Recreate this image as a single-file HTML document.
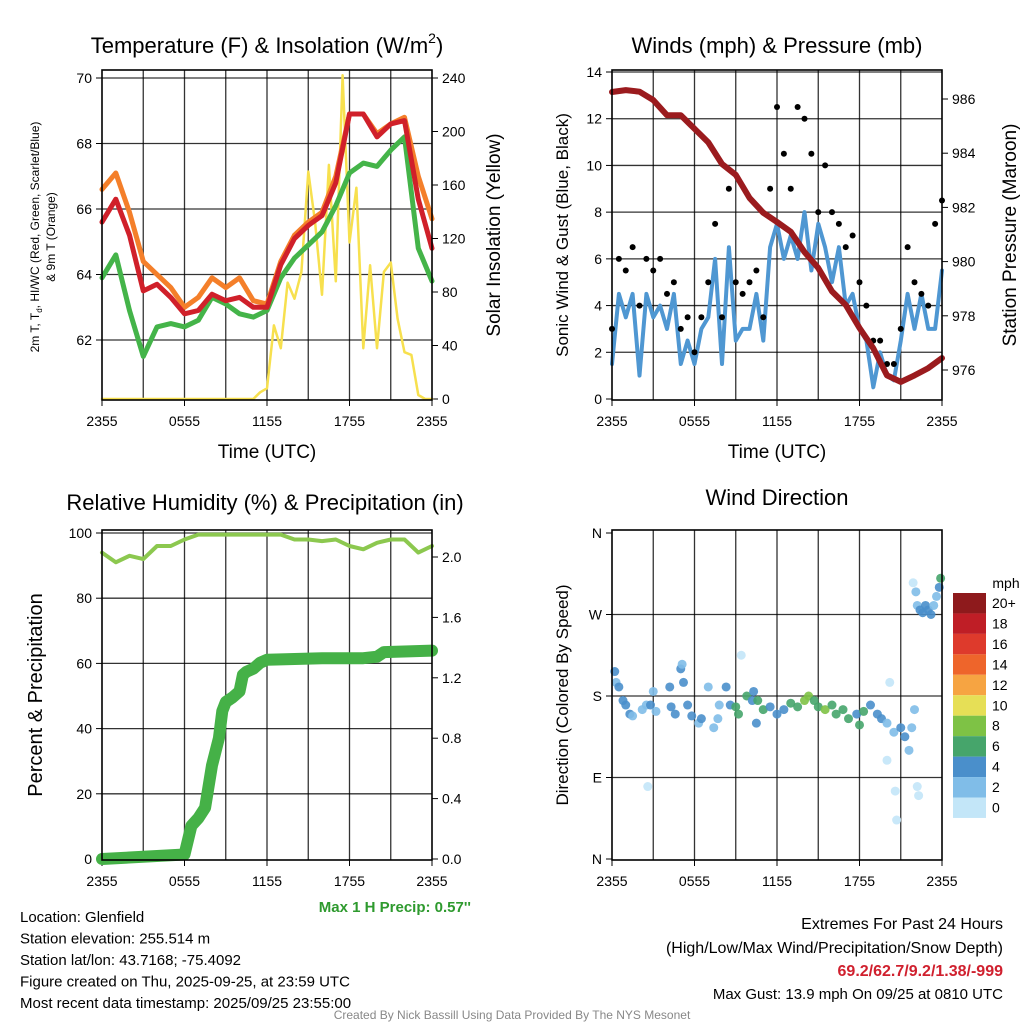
<!DOCTYPE html>
<html><head><meta charset="utf-8"><style>
body{margin:0;background:#fff;}
svg{display:block;font-family:"Liberation Sans",Arial,sans-serif;}
</style></head><body>
<svg id="svg" width="1024" height="1024" viewBox="0 0 1024 1024" xmlns="http://www.w3.org/2000/svg">
<g id="layer"></g>
</svg>
<script>
// ---- DATA ----
const hours = [0,1,2,3,4,5,6,7,8,9,10,11,12,13,14,15,16,17,18,19,20,21,22,23,24];
const tempRed = [65.6,66.3,65.2,63.5,63.7,63.3,62.8,62.9,63.4,63.2,63.3,63.0,63.0,64.3,65.1,65.5,65.8,66.8,68.9,68.9,68.2,68.6,68.7,66.3,64.8];
const tempOrange = [66.6,67.1,65.9,64.4,64.0,63.6,63.0,63.3,63.9,63.6,63.9,63.2,63.1,64.4,65.2,65.6,65.9,67.0,68.9,68.9,68.3,68.6,68.8,67.0,65.7];
const tempGreen = [63.9,64.6,62.9,61.5,62.4,62.5,62.4,62.6,63.3,63.1,62.8,62.7,62.9,63.9,64.5,64.9,65.3,66.1,67.1,67.4,67.3,67.8,68.2,64.8,63.8];
const halfHours = [0,0.5,1,1.5,2,2.5,3,3.5,4,4.5,5,5.5,6,6.5,7,7.5,8,8.5,9,9.5,10,10.5,11,11.5,12,12.5,13,13.5,14,14.5,15,15.5,16,16.5,17,17.5,18,18.5,19,19.5,20,20.5,21,21.5,22,22.5,23,23.5,24];
const solar = [0,0,0,0,0,0,0,0,0,0,0,0,0,0,0,0,0,0,0,0,0,0,0,5,8,55,38,87,75,95,170,132,78,175,88,242,117,158,38,100,38,95,102,60,35,33,3,0,0];
const pressure = [986.26,986.33,986.27,985.96,985.4,985.4,984.9,984.4,983.6,983.2,982.35,981.8,981.46,981.1,980.35,979.76,978.9,978.4,977.55,976.8,975.8,975.56,975.8,976.07,976.44];
const windSpeed = [1.5,4.5,3.5,4.5,1.0,4.5,3.5,4.0,3.0,4.5,1.5,2.5,1.5,3.0,3.5,6,1.5,6.5,2.5,3,3,4.5,2.5,6.5,7.5,6,7,6,8,5.5,7.5,6.5,5,6.5,4,4.5,3,2.5,0.5,2,1,0.8,2.5,4.5,3,4.5,3,3,5.5];
const windGust = [3,6,5.5,6.5,4,6,5.5,6,4.5,5,3,3.5,2,3.5,5,7.5,3.5,9.0,5,4.5,5,5.5,3.5,9,12.5,10.5,9,12.5,12,10.5,8,10,8,7.5,6.5,7,5,4,2.5,2.5,1.5,1.5,3,6.5,5,4.5,4,7.5,8.5];
const rh = [94,91,93,92,96,96,98,99.5,99.5,99.5,99.5,99.5,99.5,99.5,98,98,97.5,98,96,95,97,98,98,94,96];
const precipHours = [0,6,6.5,7,7.5,8,8.5,8.75,9,9.5,10,10.25,10.5,11,11.5,12,16,19,20,20.5,24];
const precip = [0,0.03,0.22,0.27,0.34,0.62,0.80,0.98,1.04,1.07,1.11,1.22,1.24,1.26,1.30,1.32,1.33,1.33,1.34,1.37,1.38];
const dirHours = [0.2,0.3,0.5,0.8,1,1.3,1.5,2.2,2.5,2.6,2.8,3,3.2,4.2,4.3,4.6,5,5.1,5.2,5.5,5.8,6.3,6.5,7,7.4,7.7,7.8,8.3,8.6,9,9.2,9.4,9.8,10.2,10.3,10.5,10.6,11,11.5,12,12.5,13,13.5,14,14.3,14.7,15,15.5,16,16.3,16.8,17.2,17.8,18,18.3,18.8,19.3,19.6,20,20.0,20.2,20.5,20.6,20.7,21,21.3,21.6,21.8,22,22.2,22.3,21.9,22.1,22.2,22.4,22.6,22.8,23,23.2,23.4,23.6,23.8,23.9];
const dirDeg = [207,195,190,175,170,160,158,165,170,80,170,185,163,190,168,160,210,215,195,170,158,150,155,190,145,155,170,190,170,168,160,225,180,175,185,150,175,165,168,160,165,172,168,175,180,175,168,165,170,160,165,155,160,148,163,170,160,155,150,109,195,140,75,43,145,135,120,145,165,80,70,305,295,280,275,272,280,275,270,280,290,300,310];
const dirSpeed = [4,2,4,4,4,4,2,2,2,0,4,2,2,4,4,4,4,2,4,4,4,2,4,2,2,2,2,4,4,6,6,0,6,4,4,4,6,6,4,4,4,6,6,8,8,6,6,8,6,6,6,6,4,6,6,4,4,4,2,0,0,2,0,0,4,4,2,2,2,0,0,0,2,2,4,4,4,4,4,2,2,4,6];
const speedLabels = ["20+","18","16","14","12","10","8","6","4","2","0"];
const speedColors = ["#8e1a1c","#bf1e26","#de3a2c","#ee652b","#f6a442","#e6df56","#7ec245","#46a56b","#4a8fcb","#80bde8","#c3e6f8"];
const xTickLabels = ["2355","0555","1155","1755","2355"];

// ---- HELPERS ----
const NS="http://www.w3.org/2000/svg";
const root=document.getElementById('layer');
function el(tag,attrs,parent){const e=document.createElementNS(NS,tag);for(const k in attrs)e.setAttribute(k,attrs[k]);(parent||root).appendChild(e);return e;}
function txt(s,x,y,size,anchor,parent,extra){const t=el('text',Object.assign({x:x,y:y,'font-size':size,'text-anchor':anchor||'middle',fill:'#000'},extra||{}),parent);t.textContent=s;return t;}
function span(parent,s,extra){const t=el('tspan',extra||{},parent);t.textContent=s;return t;}
const X0=102,X1=432,X2=612,X3=942;
function xs(left){return h=>left+h*(330/24);}
function linear(d0,d1,r0,r1){return v=>r0+(v-d0)*(r1-r0)/(d1-d0);}
function frame(left,top,g){
  for(let h=3;h<24;h+=3){const x=left+h*330/24;const l=el('line',{x1:x,y1:top,x2:x,y2:top+330,stroke:'#000','stroke-width':1.3,'stroke-opacity':0.8},g);
    
    }
  for(let i=0;i<5;i++){const x=left+i*82.5;el('line',{x1:x,y1:top+330,x2:x,y2:top+336,stroke:'#000','stroke-width':1},g);
    const t=txt(xTickLabels[i],x,top+356,14,'middle',g);
    
    }
}
function border(left,top,g){el('rect',{x:left,y:top,width:330,height:330,fill:'none',stroke:'#000','stroke-width':1.6},g);}
function hgrid(y,left,g){const l=el('line',{x1:left,y1:y,x2:left+330,y2:y,stroke:'#000','stroke-width':1.3,'stroke-opacity':0.8},g);
  
  }
function ytick(x,y,label,side,g){const dx=side==='l'?-6:6;el('line',{x1:x,y1:y,x2:x+dx,y2:y,stroke:'#000','stroke-width':1},g);
  const t=txt(label,x+(side==='l'?-10:10),y+5,14,side==='l'?'end':'start',g);
  
  }
function poly(xsArr,ysArr,stroke,w,g,name){const pts=xsArr.map((x,i)=>x.toFixed(1)+','+ysArr[i].toFixed(1)).join(' ');
  const p=el('polyline',{points:pts,fill:'none',stroke:stroke,'stroke-width':w,'stroke-linejoin':'round','stroke-linecap':'round'},g);
  
  return p;}

// ---- PANEL 1 ----
const g1=el('g',{});


const x1=xs(X0), yT=linear(62,70,340,78), yS=linear(0,240,399,78);
frame(X0,70,g1);
[62,64,66,68,70].forEach(v=>{hgrid(yT(v),X0,g1);ytick(X0,yT(v),String(v),'l',g1);});
[0,40,80,120,160,200,240].forEach(v=>ytick(X1,yS(v),String(v),'r',g1));
poly(halfHours.map(x1),solar.map(yS),'#f7e04e',2.5,g1,'solar-insolation-line');
poly(hours.map(x1),tempOrange.map(yT),'#f47f2a',5,g1,'9m-temperature-line');
poly(hours.map(x1),tempGreen.map(yT),'#44b449',5,g1,'dewpoint-line');
poly(hours.map(x1),tempRed.map(yT),'#d0202a',5,g1,'2m-temperature-line');
border(X0,70,g1);
let t;
t=el('text',{x:267,y:53,'font-size':22,'text-anchor':'middle'},g1);
span(t,'Temperature (F) & Insolation (W/m');span(t,'2',{'font-size':14,dy:-10});span(t,')',{dy:10});

t=txt('Time (UTC)',267,458,19,'middle',g1);
t=el('text',{x:0,y:0,'font-size':12,'text-anchor':'middle',transform:'translate(39,237) rotate(-90)'},g1);
span(t,'2m T, T');span(t,'d',{'font-size':8,dy:3});span(t,', HI/WC (Red, Green, Scarlet/Blue)',{dy:-3});

t=el('text',{x:0,y:0,'font-size':12,'text-anchor':'middle',transform:'translate(55,237) rotate(-90)'},g1);t.textContent='& 9m T (Orange)';
t=el('text',{x:0,y:0,'font-size':19,'text-anchor':'middle',transform:'translate(500,235) rotate(-90)'},g1);t.textContent='Solar Insolation (Yellow)';

// ---- PANEL 2 ----
const g2=el('g',{});


const x2=xs(X2), yW=linear(0,14,399,72), yP=linear(976,986,370,99);
frame(X2,70,g2);
[2,4,6,8,10,12,14].forEach(v=>hgrid(yW(v),X2,g2));
[0,2,4,6,8,10,12,14].forEach(v=>ytick(X2,yW(v),String(v),'l',g2));
[976,978,980,982,984,986].forEach(v=>ytick(X3,yP(v),String(v),'r',g2));
poly(halfHours.map(x2),windSpeed.map(yW),'#4f97d2',4,g2,'sonic-wind-line');
windGust.forEach((v,i)=>{const c=el('circle',{cx:x2(halfHours[i]),cy:yW(v),r:3,fill:'#000'},g2);
  
  });
poly(hours.map(x2),pressure.map(yP),'#9b1b1e',6,g2,'pressure-line');
border(X2,70,g2);
t=txt('Winds (mph) & Pressure (mb)',777,53,22,'middle',g2);
t=txt('Time (UTC)',777,458,19,'middle',g2);
t=el('text',{x:0,y:0,'font-size':17,'text-anchor':'middle',transform:'translate(568,235) rotate(-90)'},g2);t.textContent='Sonic Wind & Gust (Blue, Black)';
t=el('text',{x:0,y:0,'font-size':19,'text-anchor':'middle',transform:'translate(1016,235) rotate(-90)'},g2);t.textContent='Station Pressure (Maroon)';

// ---- PANEL 3 ----
const g3=el('g',{});


const x3=xs(X0), yR=linear(0,100,859,533), yPr=linear(0,2,859,557);
frame(X0,530,g3);
[20,40,60,80,100].forEach(v=>hgrid(yR(v),X0,g3));
[0,20,40,60,80,100].forEach(v=>ytick(X0,yR(v),String(v),'l',g3));
[0,0.4,0.8,1.2,1.6,2.0].forEach(v=>ytick(X1,yPr(v),v.toFixed(1),'r',g3));
poly(hours.map(x3),rh.map(yR),'#8cc84f',4,g3,'relative-humidity-line');
poly(precipHours.map(x3),precip.map(yPr),'#45b147',12,g3,'precipitation-line');
border(X0,530,g3);
t=txt('Relative Humidity (%) & Precipitation (in)',265,510,22,'middle',g3);
t=el('text',{x:0,y:0,'font-size':20,'text-anchor':'middle',transform:'translate(42,695) rotate(-90)'},g3);t.textContent='Percent & Precipitation';

// ---- PANEL 4 ----
const g4=el('g',{});


const x4=xs(X2), yD=linear(0,360,859,533);
frame(X2,530,g4);
const dirLabels=["N","E","S","W","N"];
[0,90,180,270,360].forEach((v,i)=>{if(v>0&&v<360)hgrid(yD(v),X2,g4);ytick(X2,yD(v),dirLabels[i],'l',g4);});
function speedColor(s){return speedColors[Math.max(0,Math.min(10,10-Math.min(10,Math.round(s/2))))];}
dirDeg.forEach((d,i)=>{const c=el('circle',{cx:x4(dirHours[i]),cy:yD(d),r:4.5,fill:speedColor(dirSpeed[i]),'fill-opacity':0.9},g4);
  
  });
border(X2,530,g4);
t=txt('Wind Direction',777,505,22,'middle',g4);
t=el('text',{x:0,y:0,'font-size':17,'text-anchor':'middle',transform:'translate(568,695) rotate(-90)'},g4);t.textContent='Direction (Colored By Speed)';
const gc=el('g',{});


t=txt('mph',1006,588,14,'middle',gc);
speedLabels.forEach((lab,i)=>{const y=593+i*20.45;const r=el('rect',{x:953,y:y,width:33,height:20.45,fill:speedColors[i]},gc);
  
  
  const tt=txt(lab,992,y+15,14,'start',gc);
  
  });

// ---- TEXT ----
const gt=el('g',{});


t=txt("Max 1 H Precip: 0.57''",471,912,15,'end',gt,{fill:'#2e9a2e','font-weight':'bold'});

["Location: Glenfield","Station elevation: 255.514 m","Station lat/lon: 43.7168; -75.4092","Figure created on Thu, 2025-09-25, at 23:59 UTC","Most recent data timestamp: 2025/09/25 23:55:00"].forEach((s,i)=>{const tt=txt(s,20,922+i*21.5,15,'start',gt);
  
  });
t=txt('Extremes For Past 24 Hours',1003,929,16,'end',gt);
t=txt('(High/Low/Max Wind/Precipitation/Snow Depth)',1003,953,16,'end',gt);
t=txt('69.2/62.7/9.2/1.38/-999',1003,976,16,'end',gt,{fill:'#d0202e','font-weight':'bold'});
t=txt('Max Gust: 13.9 mph On 09/25 at 0810 UTC',1003,999,15,'end',gt);
t=txt('Created By Nick Bassill Using Data Provided By The NYS Mesonet',512,1019,12,'middle',gt,{fill:'#888'});
</script>
</body></html>
